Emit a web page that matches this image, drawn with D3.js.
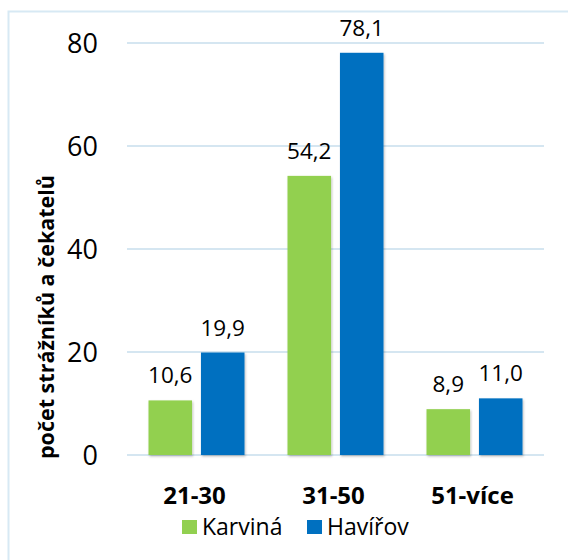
<!DOCTYPE html>
<html>
<head>
<meta charset="utf-8">
<script src="https://cdn.jsdelivr.net/npm/d3@7"></script>
<style>
  html, body { margin: 0; padding: 0; background: #fff; }
  svg { display: block; font-family: "Open Sans", sans-serif; }
</style>
</head>
<body>
<svg id="chart" width="568" height="560"></svg>
<script>
// Age groups and counts per city
const categories = ["21-30", "31-50", "51-více"];
const seriesNames = ["Karviná", "Havířov"];
const karvina = [10.6, 54.2, 8.9];
const havirov = [19.9, 78.1, 11.0];
const yTicks = [0, 20, 40, 60, 80];
const colors = ["#92d050", "#0070c0"];

const svg = d3.select("#chart");
const margin = { left: 127, right: 24, top: 43, bottom: 105 };
const W = 568, H = 560;

// Outer frame of the chart area
svg.append("rect")
  .attr("x", 8.5).attr("y", 11.5)
  .attr("width", 600).attr("height", 600)
  .attr("fill", "none")
  .attr("stroke", "#d7e9f4")
  .attr("stroke-width", 2);

const defs = svg.append("defs");
const f = defs.append("filter").attr("id", "shadow")
  .attr("x", "-10%").attr("y", "-10%").attr("width", "130%").attr("height", "130%");
f.append("feDropShadow").attr("dx", 1).attr("dy", 1.5)
  .attr("stdDeviation", 1).attr("flood-color", "#000").attr("flood-opacity", 0.25);

const x0 = d3.scaleBand().domain(categories)
  .range([margin.left, W - margin.right]).paddingInner(0).paddingOuter(0);
const x1 = d3.scaleBand().domain(seriesNames)
  .range([0, x0.bandwidth()]).paddingInner(0.17).paddingOuter(0.41);
const y = d3.scaleLinear().domain([0, 80]).range([455, 43]);

// Horizontal gridlines
svg.append("g").selectAll("line").data(yTicks).join("line")
  .attr("x1", margin.left).attr("x2", W - margin.right)
  .attr("y1", d => y(d)).attr("y2", d => y(d))
  .attr("stroke", "#d5e6f1").attr("stroke-width", 2);

// Y axis tick labels
const yAxis = d3.axisLeft(y).tickValues(yTicks).tickSize(0).tickPadding(0);
const gy = svg.append("g").attr("transform", "translate(98,0)").call(yAxis);
gy.select(".domain").remove();
gy.selectAll("text")
  .attr("font-family", "'Open Sans', sans-serif")
  .attr("font-size", 27).attr("fill", "#000").attr("dy", "0.36em");

// Bars
const rows = categories.map((c, i) => ({ cat: c, vals: [karvina[i], havirov[i]] }));
const groups = svg.append("g").selectAll("g").data(rows).join("g")
  .attr("transform", d => `translate(${x0(d.cat)},0)`);

groups.selectAll("rect").data(d => d.vals.map((v, j) => ({ name: seriesNames[j], v, j })))
  .join("rect")
  .attr("x", d => x1(d.name))
  .attr("width", x1.bandwidth())
  .attr("y", d => y(d.v))
  .attr("height", d => y(0) - y(d.v))
  .attr("fill", d => colors[d.j])
  .attr("filter", "url(#shadow)");

// Value labels
const fmt = v => v.toFixed(1).replace(".", ",");
groups.selectAll("text").data(d => d.vals.map((v, j) => ({ name: seriesNames[j], v, j })))
  .join("text")
  .attr("x", d => x1(d.name) + x1.bandwidth() / 2)
  .attr("y", d => y(d.v) - 17)
  .attr("text-anchor", "middle")
  .attr("font-size", 22.5)
  .attr("fill", "#000")
  .text(d => fmt(d.v));

// Category axis labels
const xAxis = d3.axisBottom(x0).tickSize(0).tickPadding(0);
const gx = svg.append("g").attr("transform", "translate(-2,504)").call(xAxis);
gx.select(".domain").remove();
gx.selectAll("text")
  .attr("font-family", "'Open Sans', sans-serif")
  .attr("font-size", 24).attr("font-weight", "bold")
  .attr("fill", "#000").attr("dy", 0);

// Y axis title
svg.append("text")
  .attr("transform", "translate(54,317) rotate(-90)")
  .attr("text-anchor", "middle")
  .attr("font-size", 21.5).attr("font-weight", "bold")
  .attr("fill", "#000")
  .text("počet strážníků a čekatelů");

// Legend
const legendItems = [
  { name: seriesNames[0], color: colors[0], x: 182 },
  { name: seriesNames[1], color: colors[1], x: 307 }
];
const lg = svg.append("g").selectAll("g").data(legendItems).join("g")
  .attr("transform", d => `translate(${d.x},520)`);
lg.append("rect").attr("width", 15).attr("height", 14).attr("fill", d => d.color);
lg.append("text").attr("x", 20).attr("y", 15)
  .attr("font-size", 23).attr("fill", "#000")
  .text(d => d.name);
</script>
</body>
</html>
